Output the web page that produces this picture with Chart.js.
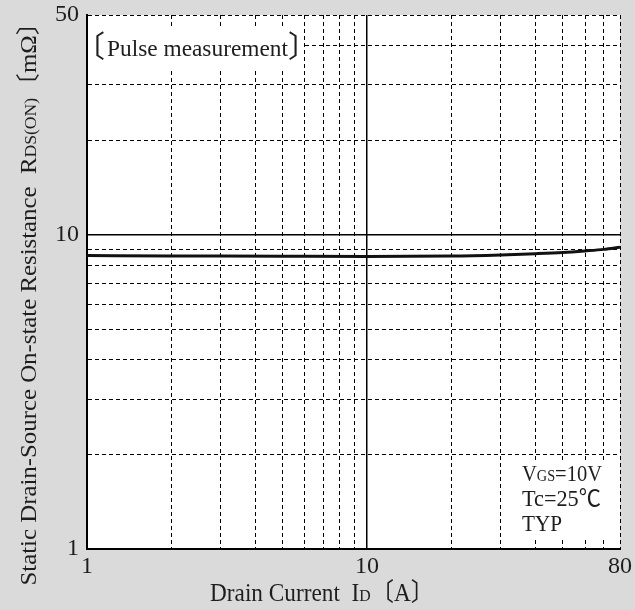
<!DOCTYPE html>
<html>
<head>
<meta charset="utf-8">
<title>RDS(ON) vs Drain Current</title>
<script src="https://cdn.jsdelivr.net/npm/chart.js@4.4.1/dist/chart.umd.min.js"></script>
<style>
    html, body { margin: 0; padding: 0; background: #dadada; }
    #wrap { width: 635px; height: 610px; }
</style>
</head>
<body>
<div id="wrap"><canvas id="rdsChart" width="635" height="610"></canvas></div>
<script>
// Curve (Drain current in A, RDS(on) in mOhm)
const drainCurrent = [1, 2, 3, 5, 10, 20, 30, 40, 50, 60, 70, 80];
const rdsOn = [8.58, 8.56, 8.55, 8.54, 8.53, 8.55, 8.62, 8.70, 8.78, 8.88, 8.98, 9.12];

// Grid positions and which of them carry a label
const xTicks = [1, 2, 3, 4, 5, 6, 7, 8, 9, 10, 20, 30, 40, 50, 60, 70, 80];
const yTicks = [1, 2, 3, 4, 5, 6, 7, 8, 9, 10, 20, 30, 40, 50];
const xLabels = [1, 10, 80];
const yLabels = [1, 10, 50];

const SERIF = "'Liberation Serif', 'Noto Sans CJK JP', serif";
const CJK = "'Noto Sans CJK JP', 'Liberation Serif', serif";
const INK = '#1e1e1e';

// Draw a line of text made of parts with different sizes (small caps subscripts)
const drawRich = (ctx, parts, x, y, align, width) => {
    ctx.save();
    ctx.textBaseline = 'alphabetic';
    let total = 0;
    parts.forEach(p => {
        ctx.font = p[1] + 'px ' + SERIF;
        total += ctx.measureText(p[0]).width;
    });
    const sx = width ? width / total : 1;
    ctx.translate(x, y);
    ctx.scale(sx, 1);
    let cx = align === 'center' ? -total / 2 : 0;
    parts.forEach(p => {
        ctx.font = p[1] + 'px ' + SERIF;
        ctx.fillStyle = INK;
        ctx.textAlign = 'left';
        ctx.fillText(p[0], cx, 0);
        cx += ctx.measureText(p[0]).width;
    });
    ctx.restore();
};

// Put a single bracket glyph so its ink starts at left
const drawGlyph = (ctx, ch, left, baseline, size) => {
    ctx.save();
    ctx.font = size + 'px ' + CJK;
    ctx.fillStyle = INK;
    ctx.textAlign = 'left';
    ctx.textBaseline = 'alphabetic';
    const m = ctx.measureText(ch);
    ctx.fillText(ch, left + m.actualBoundingBoxLeft, baseline);
    ctx.restore();
};

// Grey page, white plot area
const backgroundPlugin = {
    id: 'background',
    beforeDraw: (chart) => {
        const { ctx, chartArea: a } = chart;
        ctx.save();
        ctx.fillStyle = '#dadada';
        ctx.fillRect(0, 0, chart.width, chart.height);
        ctx.fillStyle = '#ffffff';
        ctx.fillRect(a.left, a.top, a.right - a.left, a.bottom - a.top);
        ctx.restore();
    }
};

// Notes inside the plot and the axis titles
const notesPlugin = {
    id: 'notes',
    afterDatasetsDraw: (chart) => {
        const { ctx, chartArea: a } = chart;

        // boxes that hide the grid behind the notes
        ctx.save();
        ctx.fillStyle = '#ffffff';
        ctx.fillRect(a.left + 1, 28, 214, 42);
        ctx.fillRect(518, 461, a.right - 519, 76);
        ctx.restore();

        drawGlyph(ctx, '〔', 96, 57, 30);
        drawRich(ctx, [['Pulse measurement', 24]], 107, 56, 'left', 181);
        drawGlyph(ctx, '〕', 289, 57, 30);

        drawRich(ctx, [['V', 23], ['GS', 16], ['=10V', 23]], 522, 481, 'left', 80);
        drawRich(ctx, [['Tc=25℃', 23]], 522, 506, 'left', 79);
        drawRich(ctx, [['TYP', 23]], 522, 531, 'left', 40);

        // x axis title
        drawRich(ctx, [['Drain Current  I', 25], ['D', 17], ['〔A〕', 25]], 322, 601, 'center', 224);

        // y axis title, rotated
        ctx.save();
        ctx.translate(36, 298);
        ctx.rotate(-Math.PI / 2);
        drawRich(ctx, [['Static Drain-Source On-state Resistance  R', 24], ['DS(ON)', 17], ['〔mΩ〕', 24]], 0, 0, 'center', 575);
        ctx.restore();
    }
};

const gridDash = (c) => {
    if (!c.tick) return [];
    return c.tick.value === 10 ? [] : [4, 3];
};
const gridWidth = (c) => (c.tick && c.tick.value === 10 ? 1.5 : 1);

const canvas = document.getElementById('rdsChart');
const chart = new Chart(canvas.getContext('2d'), {
    type: 'line',
    data: {
        datasets: [{
            data: drainCurrent.map((v, i) => ({ x: v, y: rdsOn[i] })),
            borderColor: '#111111',
            borderWidth: 3,
            pointRadius: 0,
            tension: 0.4,
            cubicInterpolationMode: 'monotone'
        }]
    },
    options: {
        responsive: false,
        animation: false,
        events: [],
        layout: { padding: { top: 15, right: 15, left: 0, bottom: 0 } },
        plugins: {
            legend: { display: false },
            tooltip: { enabled: false }
        },
        scales: {
            x: {
                type: 'logarithmic',
                min: 1,
                max: 80,
                afterBuildTicks: (scale) => { scale.ticks = xTicks.map(v => ({ value: v })); },
                afterFit: (scale) => {
                    scale.height = 61;
                    scale.paddingLeft = 0;
                    scale.paddingRight = 0;
                },
                ticks: {
                    autoSkip: false,
                    maxRotation: 0,
                    padding: 3,
                    color: INK,
                    font: { family: SERIF, size: 24 },
                    callback: (v) => (xLabels.includes(v) ? String(v) : '')
                },
                grid: { color: '#000', lineWidth: gridWidth, drawTicks: false },
                border: { color: '#000', width: 2, dash: gridDash }
            },
            y: {
                type: 'logarithmic',
                min: 1,
                max: 50,
                afterBuildTicks: (scale) => { scale.ticks = yTicks.map(v => ({ value: v })); },
                afterFit: (scale) => {
                    scale.width = 87;
                    scale.paddingTop = 0;
                    scale.paddingBottom = 0;
                },
                ticks: {
                    autoSkip: false,
                    padding: 8,
                    color: INK,
                    font: { family: SERIF, size: 24 },
                    callback: (v) => (yLabels.includes(v) ? String(v) : '')
                },
                grid: { color: '#000', lineWidth: gridWidth, drawTicks: false },
                border: { color: '#000', width: 2, dash: gridDash }
            }
        }
    },
    plugins: [backgroundPlugin, notesPlugin]
});
console.log('chart area', chart.chartArea);
</script>
</body>
</html>
